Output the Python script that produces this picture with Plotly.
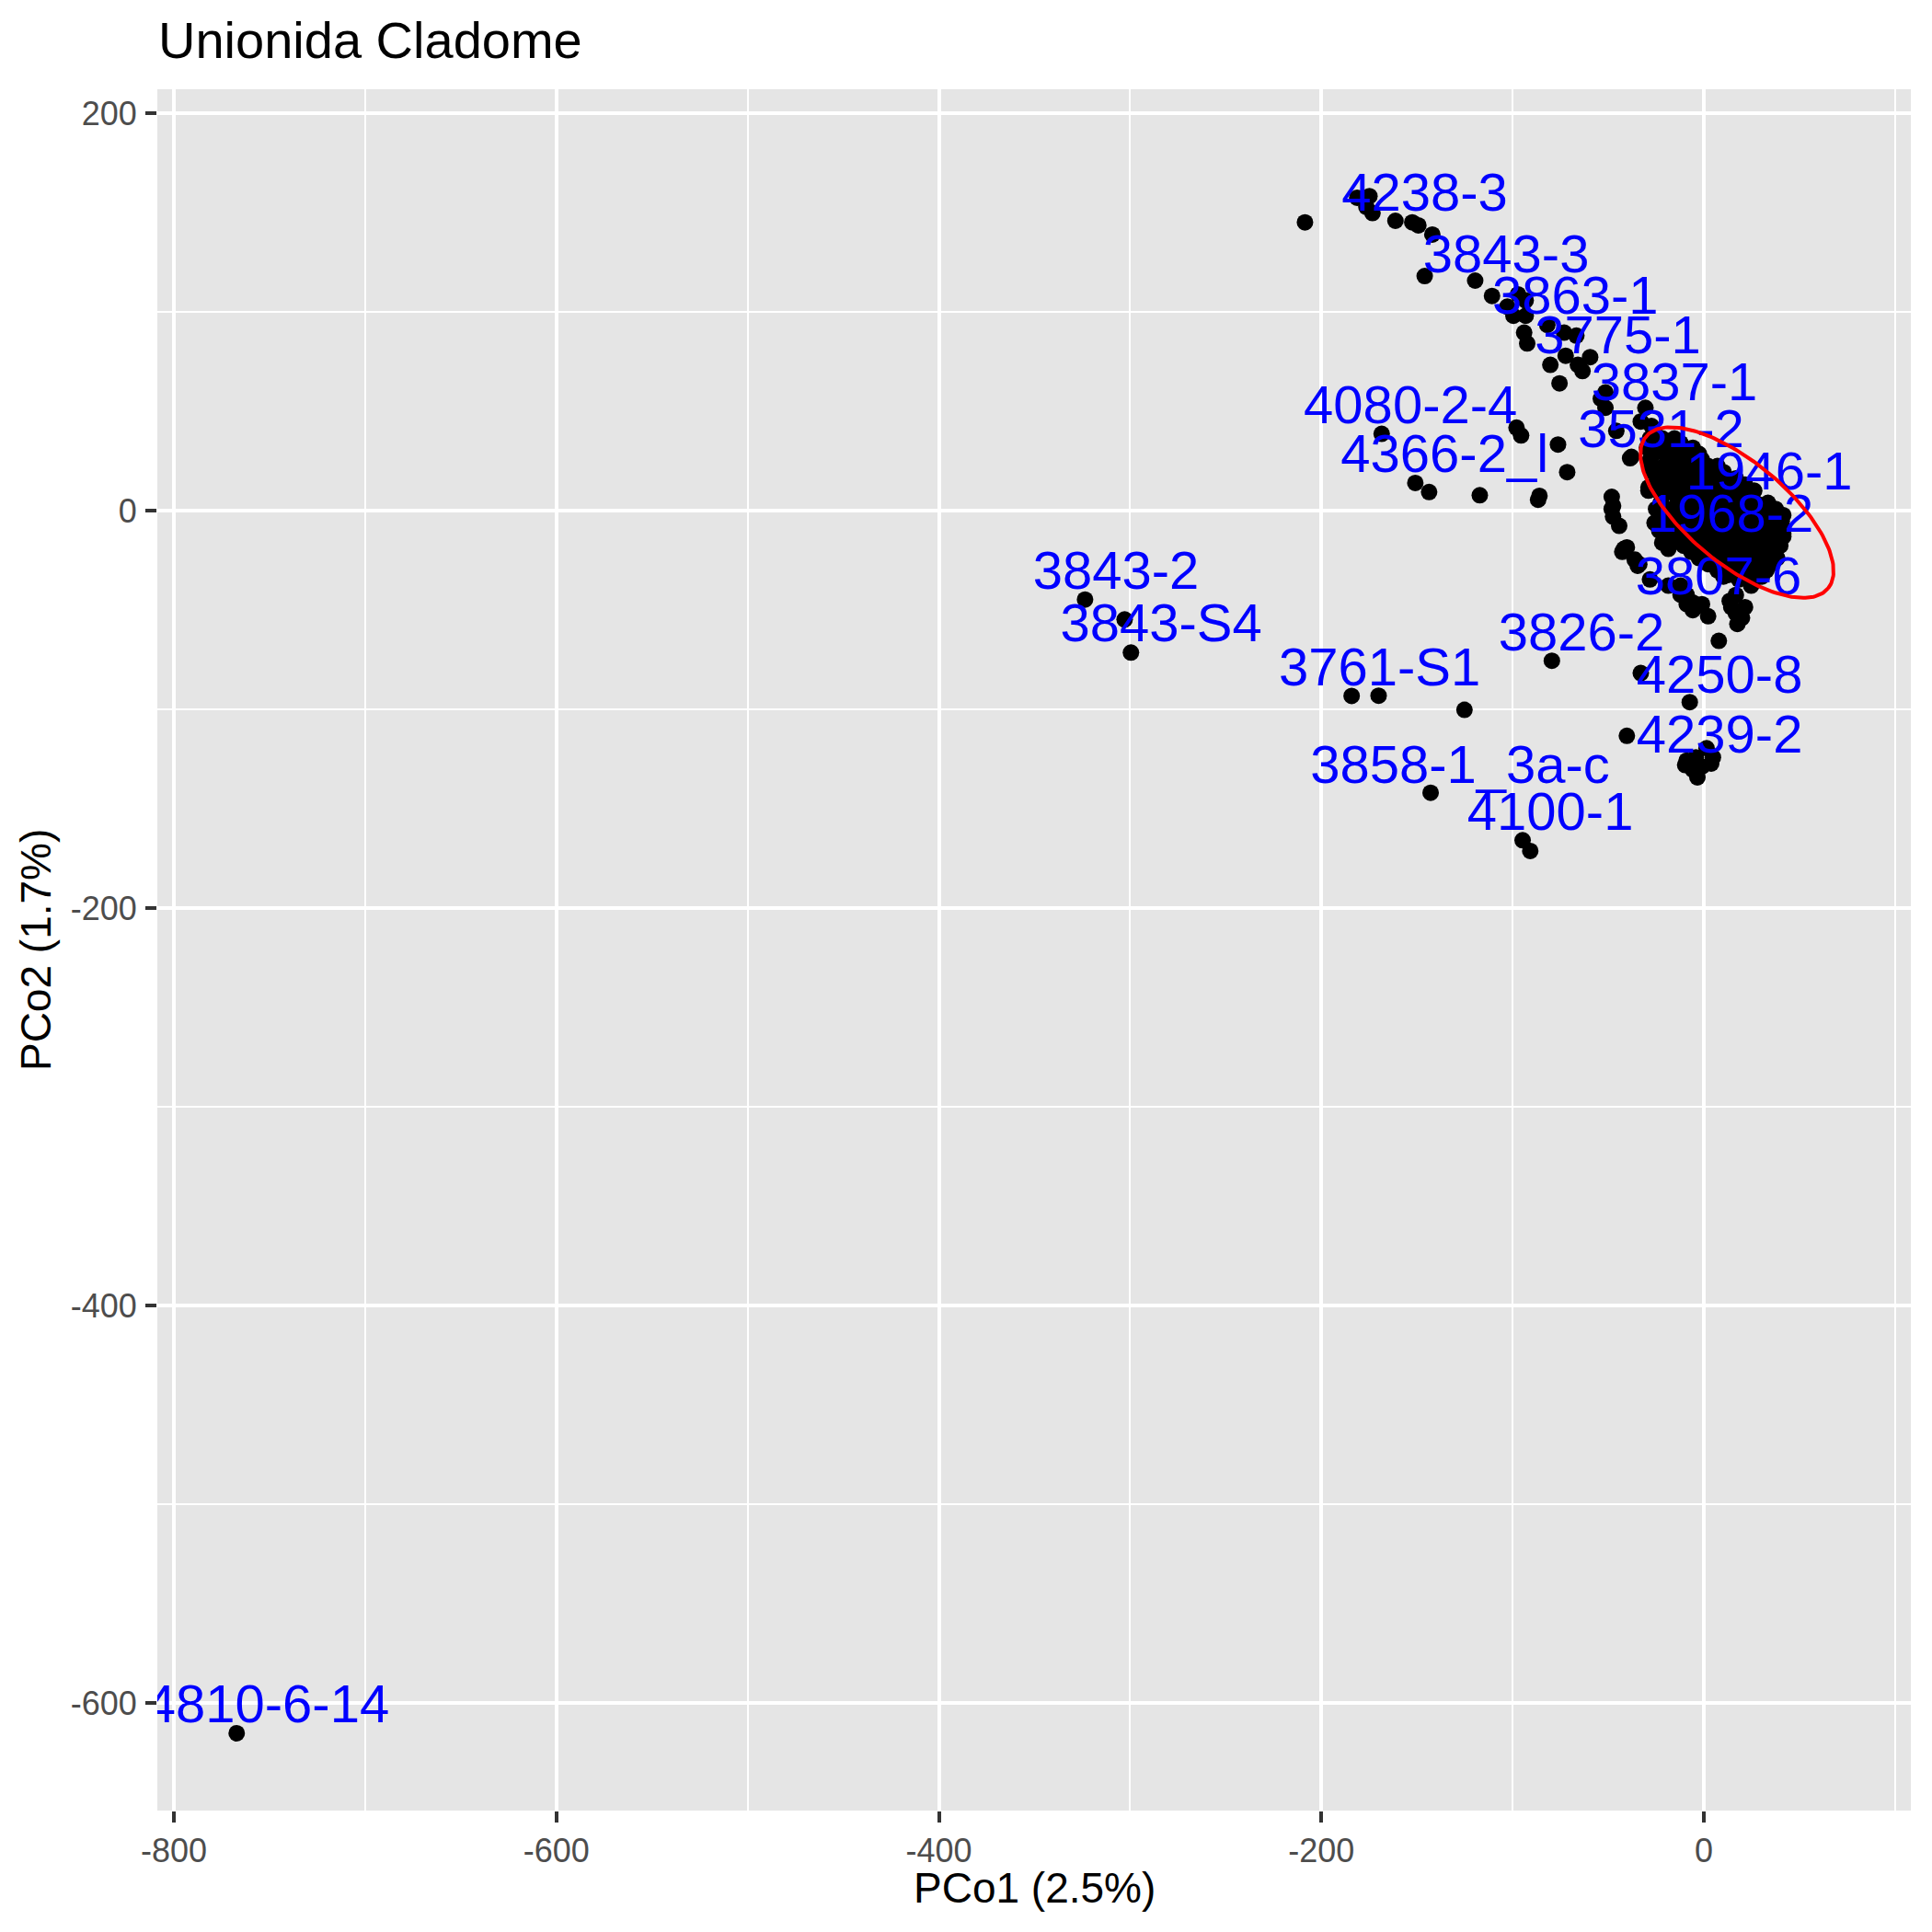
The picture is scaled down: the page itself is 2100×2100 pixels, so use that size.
import plotly.graph_objects as go
import numpy as np

# PCoA scores
pco1 = [
    -767.2, -208.6, -181.3, -174.9, -176.5, -173.3, -161.3, -152.5, -149.3, -142.0,
    -146.0, -119.6, -110.8, -97.2, -93.2, -102.8, -99.6, -93.2, -94.0, -92.4,
    -81.9, -73.1, -66.7, -72.3, -80.3, -65.9, -59.5, -63.5, -75.5, -51.5,
    -53.9, -51.5, -30.6, -33.0, -27.4, -45.8, -37.9, -168.5, -98.0, -95.6,
    -76.3, -71.5, -150.9, -143.7, -117.2, -86.7, -86.0, -48.2, -47.5, -44.3,
    -29.0, -25.8, -25.0, -21.8, -38.6, -28.2, -29.0, -24.2, -21.8, -18.6,
    # lower-left arc of the main cluster
    -48.2, -47.5, -41.8, -40.3, -42.7, -36.2, -34.6, -33.8, -28.2, -20.2,
    -23.4, -18.6, -12.2, -12.2, -9.0, -9.0, -5.8, -5.8, -2.6, -1.0,
    2.2, 10.2, 13.5, 16.7, 14.3, 21.5, 19.9, 17.5, 16.7, 7.8,
    24.7, 30.3, 39.1, 41.5, 39.9, 40.7,
    # lower group
    -79.5, -33.0, -125.2, -7.4, -40.3, -9.0, -4.2, 1.4, 4.7, -5.8,
    -1.0, -3.4, 3.8, -9.8, -142.9, -94.8, -90.8, -323.6, -302.9, -299.6,
    -184.2, -170.1,
    # dense core
    -28.2, -21.8, -15.4,
    -25.0, -18.6, -12.2,
    -29.8, -18.6, -10.6, -5.8,
    -26.6, -20.2, -13.8, -7.4, -2.6,
    -28.2, -13.8, -7.4, -1.0,
    -27.4, -21.0, -14.6, -4.2, 2.2, 7.1,
    -26.6, -20.2, -9.0, -1.0, 5.5, 10.3,
    -23.4, -17.0, -11.4, -4.2, 2.2, 10.3, 16.7,
    -25.0, -15.4, -7.4, -1.0, 7.1, 15.1, 21.5,
    -24.2, -18.6, -9.8, -2.6, 5.5, 13.5, 20.7, 26.3,
    -21.8, -13.8, -5.8, 2.2, 10.3, 16.7, 24.7,
    -22.6, -13.8, -5.0, 3.0, 11.1, 19.1, 27.1, 33.5,
    -25.0, -17.0, -9.0, -1.0, 7.1, 15.1, 23.1, 31.1, 37.5,
    -20.2, -12.2, -3.4, 5.5, 13.5, 21.5, 29.5, 36.7, 41.5,
    -23.4, -13.8, -5.8, 2.2, 10.3, 18.3, 26.3, 34.3, 40.7,
    -16.2, -8.2, 1.4, 9.4, 17.5, 25.5, 33.5, 39.9,
    -20.2, -12.2, -2.6, 5.5, 13.5, 21.5, 29.5, 37.5, 41.5,
    -14.6, -5.8, 3.8, 12.7, 20.7, 28.7, 36.7,
    -10.6, -1.0, 8.7, 16.7, 24.7, 32.7, 39.9,
    -6.6, 3.0, 11.9, 19.9, 27.9, 35.1,
    -2.6, 7.1, 15.1, 23.1, 31.1, 38.3,
    2.2, 11.9, 19.9, 27.9, 35.1,
    7.1, 16.7, 24.7, 32.7,
    12.7, 21.5, 29.5,
    18.3, 26.3,
]
pco2 = [
    -615.3, 145.0, 157.4, 158.2, 152.8, 149.7, 145.8, 145.0, 143.5, 138.9,
    118.0, 115.7, 108.0, 108.8, 105.7, 102.6, 98.0, 98.0, 89.5, 84.1,
    93.4, 89.5, 88.0, 77.9, 73.3, 73.3, 77.2, 70.2, 64.0, 59.4,
    56.3, 51.7, 51.7, 44.8, 42.5, 40.1, 27.0, 38.6, 41.7, 37.8,
    33.2, 19.3, 13.9, 9.3, 7.7, 5.4, 7.4, 6.9, 2.3, -7.7,
    10.0, -6.2, 37.8, 33.2, 26.3, 33.2, 11.6, -5.4, -16.2, -19.3,
    0.8, -3.1, -19.3, -18.5, -20.8, -24.7, -27.8, -27.0, -34.7, -16.2,
    -10.0, -37.8, -37.8, -42.4, -42.5, -47.1, -46.3, -50.1, -47.8, -47.1,
    -53.2, -33.2, -45.5, -42.5, -48.6, -48.6, -54.0, -57.1, -51.7, -65.6,
    -37.8, -33.2, -17.7, -13.1, -3.9, -2.3,
    -75.6, -81.8, -100.3, -96.4, -113.4, -125.8, -124.2, -119.6, -124.2, -130.4,
    -128.8, -134.3, -127.3, -128.1, -142.0, -165.9, -171.3, -44.8, -54.8, -71.5,
    -93.3, -93.2,
    36.3, 36.3, 36.3,
    33.9, 33.9, 33.9,
    31.6, 31.6, 31.6, 31.6,
    28.5, 28.5, 28.5, 28.5, 28.5,
    25.5, 25.5, 25.5, 25.5,
    22.4, 22.4, 22.4, 22.4, 22.4, 22.4,
    19.3, 19.3, 19.3, 19.3, 19.3, 19.3,
    16.2, 16.2, 16.2, 16.2, 16.2, 16.2, 16.2,
    13.1, 13.1, 13.1, 13.1, 13.1, 13.1, 13.1,
    10.0, 10.0, 10.0, 10.0, 10.0, 10.0, 10.0, 10.0,
    6.9, 6.9, 6.9, 6.9, 6.9, 6.9, 6.9,
    3.9, 3.9, 3.9, 3.9, 3.9, 3.9, 3.9, 3.9,
    0.8, 0.8, 0.8, 0.8, 0.8, 0.8, 0.8, 0.8, 0.8,
    -2.3, -2.3, -2.3, -2.3, -2.3, -2.3, -2.3, -2.3, -2.3,
    -5.4, -5.4, -5.4, -5.4, -5.4, -5.4, -5.4, -5.4, -5.4,
    -8.5, -8.5, -8.5, -8.5, -8.5, -8.5, -8.5, -8.5,
    -11.6, -11.6, -11.6, -11.6, -11.6, -11.6, -11.6, -11.6, -11.6,
    -14.7, -14.7, -14.7, -14.7, -14.7, -14.7, -14.7,
    -17.7, -17.7, -17.7, -17.7, -17.7, -17.7, -17.7,
    -20.8, -20.8, -20.8, -20.8, -20.8, -20.8,
    -23.9, -23.9, -23.9, -23.9, -23.9, -23.9,
    -27.0, -27.0, -27.0, -27.0, -27.0,
    -30.1, -30.1, -30.1, -30.1,
    -32.4, -32.4, -32.4,
    -34.7, -34.7,
]

# sample labels (text positions)
labels = ["4238-3", "3843-3", "3863-1", "3775-1", "3837-1", "4080-2-4", "4366-2_l",
          "3531-2", "1946-1", "1968-2", "3807-6", "3843-2", "3843-S4", "3826-2",
          "3761-S1", "4250-8", "4239-2", "3858-1_3a-c", "4100-1", "4810-6-14"]
label_x = [-146.0, -103.4, -67.3, -45.0, -15.4, -153.4, -135.6,
           -22.4, 34.2, 13.9, 7.7, -307.4, -283.8, -64.0,
           -169.6, 8.2, 8.2, -127.5, -80.3, -751.0]
label_y = [157.8, 126.8, 105.6, 85.7, 62.1, 50.5, 26.0,
           38.5, 17.2, -4.1, -35.6, -32.8, -59.2, -63.8,
           -81.4, -85.2, -115.2, -130.5, -154.1, -603.2]

x_ticks = [-800, -600, -400, -200, 0]
x_ticktext = ["-800", "-600", "-400", "-200", "0"]
y_ticks = [-600, -400, -200, 0, 200]
y_ticktext = ["-600", "-400", "-200", "0", "200"]

# confidence ellipse around the core cluster
ell_center = (17.3, -1.0)
ell_u = (47.6, -38.2)
ell_v = (-16.9, -19.6)
t = np.linspace(0, 2 * np.pi, 200)
ell_x = ell_center[0] + ell_u[0] * np.cos(t) + ell_v[0] * np.sin(t)
ell_y = ell_center[1] + ell_u[1] * np.cos(t) + ell_v[1] * np.sin(t)

font = "Liberation Sans, Arial, Helvetica, sans-serif"

fig = go.Figure()
fig.add_trace(go.Scatter(x=pco1, y=pco2, mode="markers",
                         marker=dict(color="black", size=18, line=dict(width=0))))
fig.add_trace(go.Scatter(x=label_x, y=label_y, mode="text", text=labels,
                         textposition="middle center",
                         textfont=dict(color="#0000FF", size=58, family=font)))
fig.add_trace(go.Scatter(x=ell_x, y=ell_y, mode="lines",
                         line=dict(color="#FF0000", width=4)))

axis_common = dict(
    showgrid=True, gridcolor="white", gridwidth=4, zeroline=False,
    ticks="outside", ticklen=12, tickwidth=4, tickcolor="#333333",
    tickfont=dict(size=36, color="#4D4D4D", family=font),
    showline=False,
    minor=dict(dtick=100, tick0=0, showgrid=True, gridcolor="white", gridwidth=2),
)
fig.update_xaxes(range=[-808.7, 108.2], tickvals=x_ticks, ticktext=x_ticktext,
                 ticklabelstandoff=0, **axis_common)
fig.update_yaxes(range=[-654.2, 212.0], tickvals=y_ticks, ticktext=y_ticktext,
                 ticklabelstandoff=2, **axis_common)

# page body adds an 8px offset, so the figure is 2092 px and margins shifted
W = 2092
fig.update_layout(
    width=W, height=W,
    showlegend=False,
    plot_bgcolor="#E5E5E5", paper_bgcolor="white",
    margin=dict(l=163, r=23, t=89, b=132),
    font=dict(family=font),
    title=dict(text="Unionida Cladome", x=164 / W, xanchor="left",
               y=1 - 35 / W, yanchor="middle",
               font=dict(size=56, color="black", family=font)),
    annotations=[
        dict(text="PCo1 (2.5%)", xref="paper", yref="paper", x=0.5, y=-0.0449,
             xanchor="center", yanchor="middle", showarrow=False,
             font=dict(size=46, color="black", family=font)),
        dict(text="PCo2 (1.7%)", xref="paper", yref="paper", x=-0.0695, y=0.5,
             xanchor="center", yanchor="middle", showarrow=False, textangle=-90,
             font=dict(size=46, color="black", family=font)),
    ],
)

fig.write_html("out.html")
